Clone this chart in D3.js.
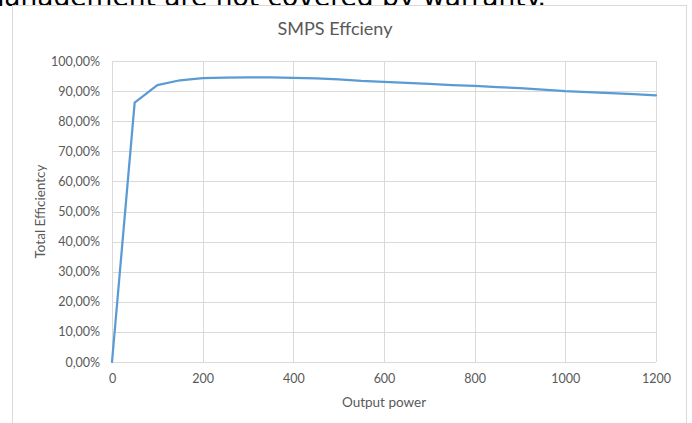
<!DOCTYPE html>
<html>
<head>
<meta charset="utf-8">
<script src="https://cdn.jsdelivr.net/npm/d3@7"></script>
<style>
  body { margin: 0; background: #fff; }
  svg { display: block; }
</style>
</head>
<body>
<svg id="chart" width="692" height="423"></svg>
<script>
// output power (W)
var power = [0, 50, 100, 150, 200, 250, 300, 350, 400, 450, 500, 550, 600,
             650, 700, 750, 800, 850, 900, 950, 1000, 1050, 1100, 1150, 1200];
// total efficiency (fraction)
var efficiency = [0, 0.862, 0.920, 0.936, 0.943, 0.945, 0.946, 0.946, 0.944, 0.942, 0.939, 0.934, 0.931,
                  0.927, 0.924, 0.920, 0.917, 0.913, 0.910, 0.905, 0.900, 0.897, 0.893, 0.890, 0.886];
var xTicks = [0, 200, 400, 600, 800, 1000, 1200];
var yTicks = [0, 0.1, 0.2, 0.3, 0.4, 0.5, 0.6, 0.7, 0.8, 0.9, 1.0];

var FONT = "Lato, 'Open Sans', sans-serif";
var TEXT_COLOR = "#595959";
var GRID_COLOR = "#d9d9d9";
var LINE_COLOR = "#5b9bd5";

var svg = d3.select("#chart");

// plot area
var PLOT_L = 112, PLOT_R = 656, PLOT_T = 61, PLOT_B = 362;

var x = d3.scaleLinear().domain([0, 1200]).range([PLOT_L, PLOT_R]);
var y = d3.scaleLinear().domain([0, 1]).range([PLOT_B, PLOT_T]);

var fmtPct = function(v){ return d3.format(".2f")(v*100).replace(".", ",") + "%"; };

// text of the page above the chart, cut by the top edge (as in the screenshot)
svg.append("text")
  .attr("x", 546).attr("y", 6)
  .attr("text-anchor", "end")
  .style("font-family", "'DejaVu Sans', sans-serif")
  .style("font-size", "26.5px")
  .style("fill", "#000")
  .text("management are not covered by warranty.");

// chart frame (drawn over the descenders of the page text)
svg.append("rect")
  .attr("x", 12.5).attr("y", 5.5)
  .attr("width", 674).attr("height", 440)
  .style("fill", "white")
  .style("stroke", "#d9d9d9")
  .style("stroke-width", 1);

// title
svg.append("text")
  .attr("x", 335).attr("y", 35)
  .attr("text-anchor", "middle")
  .style("font-family", FONT)
  .style("font-size", "18px")
  .style("fill", TEXT_COLOR)
  .text("SMPS Effcieny");

// gridlines
var grid = svg.append("g").attr("id", "grid");
grid.selectAll("line.h").data(yTicks).enter().append("line")
  .attr("x1", PLOT_L).attr("x2", PLOT_R)
  .attr("y1", function(d){ return Math.round(y(d)) + 0.5; })
  .attr("y2", function(d){ return Math.round(y(d)) + 0.5; })
  .style("stroke", GRID_COLOR);
grid.selectAll("line.v").data(xTicks).enter().append("line")
  .attr("y1", PLOT_T).attr("y2", PLOT_B)
  .attr("x1", function(d){ return Math.round(x(d)) + 0.5; })
  .attr("x2", function(d){ return Math.round(x(d)) + 0.5; })
  .style("stroke", GRID_COLOR);

// axes (labels only, Excel style)
var yAxis = svg.append("g")
  .attr("transform", "translate(" + (PLOT_L - 12) + ",0)")
  .call(d3.axisLeft(y).tickValues(yTicks).tickFormat(fmtPct).tickSize(0).tickPadding(0));
var xAxis = svg.append("g")
  .attr("transform", "translate(0," + (PLOT_B + 12) + ")")
  .call(d3.axisBottom(x).tickValues(xTicks).tickFormat(d3.format("d")).tickSize(0).tickPadding(0));
[yAxis, xAxis].forEach(function(a){
  a.select(".domain").remove();
  a.selectAll("text")
    .style("font-family", FONT)
    .style("font-size", "12.5px")
    .style("fill", TEXT_COLOR);
});

// axis titles
svg.append("text")
  .attr("x", (PLOT_L + PLOT_R) / 2).attr("y", 407)
  .attr("text-anchor", "middle")
  .style("font-family", FONT)
  .style("font-size", "13.5px")
  .style("fill", TEXT_COLOR)
  .text("Output power");
svg.append("text")
  .attr("transform", "translate(45," + ((PLOT_T + PLOT_B) / 2) + ") rotate(-90)")
  .attr("text-anchor", "middle")
  .style("font-family", FONT)
  .style("font-size", "13.5px")
  .style("fill", TEXT_COLOR)
  .text("Total Efficientcy");

// efficiency line
var line = d3.line()
  .x(function(d){ return x(d[0]); })
  .y(function(d){ return y(d[1]); });
svg.append("path")
  .datum(d3.zip(power, efficiency))
  .attr("d", line)
  .style("fill", "none")
  .style("stroke", LINE_COLOR)
  .style("stroke-width", 2.25)
  .style("stroke-linejoin", "round")
  .style("stroke-linecap", "round");
</script>
</body>
</html>
